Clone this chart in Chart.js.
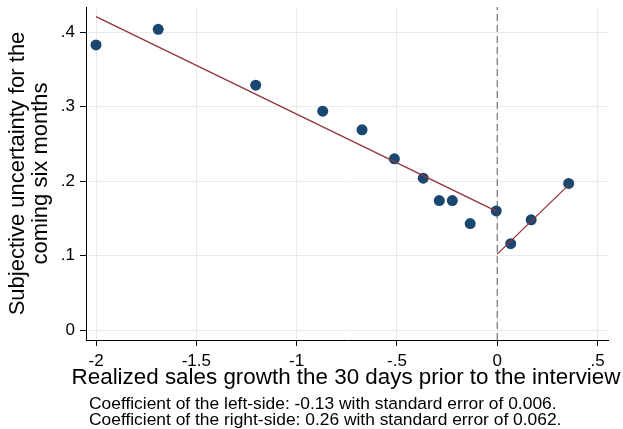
<!DOCTYPE html>
<html>
<head>
<meta charset="utf-8">
<script src="https://cdn.jsdelivr.net/npm/chart.js@4.4.1/dist/chart.umd.min.js"></script>
<style>
  html, body { margin: 0; padding: 0; background: #fff; }
  canvas { display: block; }
</style>
</head>
<body>
<canvas id="myChart" width="623" height="429"></canvas>
<script>
// binned scatter: realized sales growth vs subjective uncertainty
var growth = [-2.0, -1.69, -1.204, -0.87, -0.674, -0.513, -0.369, -0.289, -0.224, -0.135, -0.005, 0.067, 0.169, 0.356]
var uncertainty = [0.383, 0.404, 0.329, 0.294, 0.269, 0.230, 0.204, 0.174, 0.174, 0.143, 0.160, 0.116, 0.148, 0.197]

// linear fits on each side of the cutoff
var leftFitX = [-2.0, 0]
var leftFitY = [0.421, 0.159]
var rightFitX = [0, 0.356]
var rightFitY = [0.102, 0.195]
var cutoff = 0

var xTicks = [-2, -1.5, -1, -0.5, 0, 0.5]
var yTicks = [0, 0.1, 0.2, 0.3, 0.4]
var xMin = -2.05, xMax = 0.552
var yMin = -0.0134, yMax = 0.434

var xTitle = 'Realized sales growth the 30 days prior to the interview'
var yTitle = ['Subjective uncertainty for the', 'coming six months']
var notes = [
    'Coefficient of the left-side: -0.13 with standard error of 0.006.',
    'Coefficient of the right-side: 0.26 with standard error of 0.062.'
]

function toPoints(xs, ys) {
    return xs.map(function (x, i) { return {x: x, y: ys[i]} })
}

// stata style labels: .4 instead of 0.4
function stataLabel(v) {
    return String(Math.round(v * 100) / 100).replace(/^(-?)0\./, '$1.')
}

var fontFamily = '"Liberation Sans", Arial, sans-serif'

// x title is wider than the plot area in the original, so the axis title
// (which gets squeezed to the scale width) is drawn here instead, plus the notes
var bottomText = {
    id: 'bottomText',
    afterDraw: function (chart) {
        var ctx = chart.ctx
        ctx.save()
        ctx.fillStyle = '#000'
        ctx.textBaseline = 'alphabetic'
        ctx.font = '22.4px ' + fontFamily
        ctx.textAlign = 'center'
        ctx.fillText(xTitle, 346, 384)
        ctx.font = '17.4px ' + fontFamily
        ctx.textAlign = 'left'
        ctx.fillText(notes[0], 89, 409)
        ctx.fillText(notes[1], 89, 425)
        ctx.restore()
    }
}

var ctx = document.getElementById('myChart').getContext('2d')

var myChart = new Chart(ctx, {
    type: 'scatter',
    data: {
        datasets: [
            {
                label: 'left fit',
                data: toPoints(leftFitX, leftFitY),
                showLine: true,
                borderColor: '#90353b',
                borderWidth: 1.3,
                pointRadius: 0,
                order: 0
            },
            {
                label: 'right fit',
                data: toPoints(rightFitX, rightFitY),
                showLine: true,
                borderColor: '#90353b',
                borderWidth: 1.3,
                pointRadius: 0,
                order: 0
            },
            {
                label: 'bins',
                data: toPoints(growth, uncertainty),
                pointRadius: 5.5,
                pointBackgroundColor: '#1a476f',
                pointBorderWidth: 0,
                order: 1
            },
            {
                label: 'cutoff',
                data: [{x: cutoff, y: yMin}, {x: cutoff, y: yMax}],
                showLine: true,
                borderColor: '#7f7f7f',
                borderWidth: 1.3,
                borderDash: [7, 4],
                pointRadius: 0,
                order: 2
            }
        ]
    },
    options: {
        responsive: false,
        animation: false,
        devicePixelRatio: 1,
        layout: {
            padding: {left: 0, top: 7, right: 15, bottom: 39}
        },
        plugins: {
            legend: {display: false},
            tooltip: {enabled: false}
        },
        scales: {
            x: {
                type: 'linear',
                min: xMin,
                max: xMax,
                afterBuildTicks: function (scale) {
                    scale.ticks = xTicks.map(function (v) { return {value: v} })
                },
                afterFit: function (scale) {
                    scale.height = 50
                    scale.paddingLeft = 0
                    scale.paddingRight = 0
                },
                ticks: {
                    color: '#000',
                    padding: 5,
                    maxRotation: 0,
                    font: {family: fontFamily, size: 17},
                    callback: function (v) { return stataLabel(v) }
                },
                grid: {
                    color: '#eaeaea',
                    lineWidth: 1,
                    tickColor: '#000',
                    tickLength: 6
                },
                border: {color: '#000', width: 1},
                title: {display: false}
            },
            y: {
                type: 'linear',
                min: yMin,
                max: yMax,
                afterBuildTicks: function (scale) {
                    scale.ticks = yTicks.map(function (v) { return {value: v} })
                },
                afterFit: function (scale) {
                    scale.width = 86
                    scale.paddingTop = 0
                    scale.paddingBottom = 0
                },
                ticks: {
                    color: '#000',
                    padding: 5,
                    font: {family: fontFamily, size: 17},
                    callback: function (v) { return stataLabel(v) }
                },
                grid: {
                    color: '#eaeaea',
                    lineWidth: 1,
                    tickColor: '#000',
                    tickLength: 6
                },
                border: {color: '#000', width: 1},
                title: {
                    display: true,
                    text: yTitle,
                    color: '#000',
                    font: {family: fontFamily, size: 22, lineHeight: 1.06},
                    padding: {top: 6, bottom: 0}
                }
            }
        }
    },
    plugins: [bottomText]
})
</script>
</body>
</html>
